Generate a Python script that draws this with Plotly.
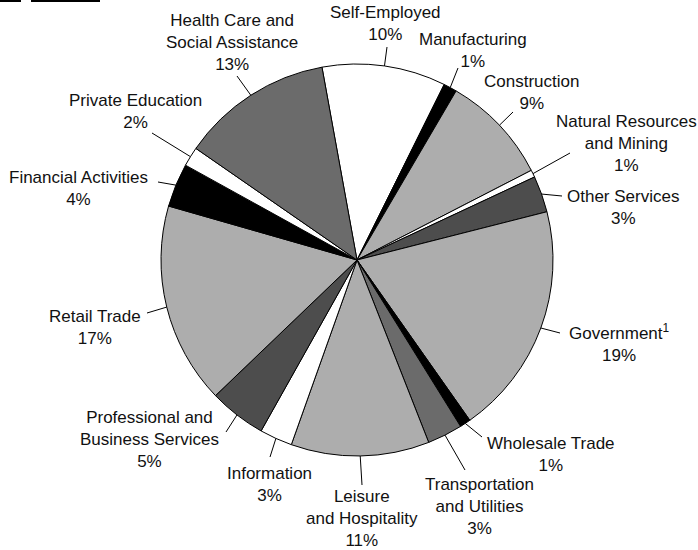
import math
import plotly.graph_objects as go

# Share of employment by sector (clockwise from Self-Employed)
sectors = ["Self-Employed", "Manufacturing", "Construction",
           "Natural Resources<br>and Mining", "Other Services",
           "Government<sup>1</sup>", "Wholesale Trade",
           "Transportation<br>and Utilities", "Leisure<br>and Hospitality",
           "Information", "Professional and<br>Business Services",
           "Retail Trade", "Financial Activities", "Private Education",
           "Health Care and<br>Social Assistance"]
shares = [10.2, 1.1, 9.0, 0.6, 3.0, 19.2, 0.9, 2.9, 11.4, 2.7, 4.7, 16.6, 3.6, 1.6, 12.5]
pct_labels = ["10%", "1%", "9%", "1%", "3%", "19%", "1%", "3%", "11%", "3%",
              "5%", "17%", "4%", "2%", "13%"]

# styling
fills = ["#ffffff", "#000000", "#adadad", "#ffffff", "#4d4d4d", "#adadad", "#000000",
         "#6b6b6b", "#adadad", "#ffffff", "#4d4d4d", "#adadad", "#000000", "#ffffff",
         "#6b6b6b"]
# where each label's text block sits (pixel centre in the 698x550 page)
label_pos = [(385, 23), (473, 50), (531, 93), (626, 143), (623, 207), (619, 343),
             (551, 454), (480, 506), (362, 518), (269, 484), (149, 439), (95, 327),
             (78, 188), (135, 112), (232, 42)]
# outer end of each leader line (pixels)
leader_end = [(387, 47), (458, 68), (513, 112), (570, 153), (562, 196), (560, 333),
              (482, 437), (465, 470), (362, 485), (270, 457), (226, 432), (147, 313),
              (158, 182), (152, 133), (237, 76)]

W, H = 698, 550
cx, cy, r = 357, 260, 196
start_deg = -10.3

fig = go.Figure(go.Pie(
    labels=[s.replace("<br>", " ").replace("<sup>1</sup>", "") for s in sectors],
    values=shares,
    sort=False,
    direction="clockwise",
    rotation=start_deg,
    textinfo="none",
    hoverinfo="label+percent",
    marker=dict(colors=fills, line=dict(color="#000000", width=1)),
    domain=dict(x=[(cx - r) / W, (cx + r) / W], y=[(H - cy - r) / H, (H - cy + r) / H]),
    showlegend=False,
))

total = sum(shares)
annotations = []
shapes = []
acc = 0.0
for name, val, pct, (tx, ty), (ex, ey) in zip(sectors, shares, pct_labels, label_pos, leader_end):
    mid = math.radians(start_deg + 360 * (acc + val / 2) / total)
    acc += val
    px = cx + r * math.sin(mid)
    py = cy - r * math.cos(mid)
    shapes.append(dict(type="line", xref="paper", yref="paper",
                       x0=px / W, y0=1 - py / H, x1=ex / W, y1=1 - ey / H,
                       line=dict(color="#000000", width=1)))
    annotations.append(dict(
        x=tx / W, y=1 - ty / H, xref="paper", yref="paper",
        text=f"{name}<br>{pct}", showarrow=False,
        font=dict(family="Liberation Sans, Arial, sans-serif", size=17, color="#111111"),
        align="center", xanchor="center", yanchor="middle",
    ))

# bits of a cropped header at the top-left edge
shapes += [
    dict(type="rect", xref="paper", yref="paper", x0=0, x1=21 / W, y0=1 - 2 / H, y1=1,
         fillcolor="black", line=dict(width=0)),
    dict(type="rect", xref="paper", yref="paper", x0=31 / W, x1=100 / W, y0=1 - 2 / H, y1=1,
         fillcolor="black", line=dict(width=0)),
]

fig.update_layout(
    width=W, height=H,
    margin=dict(l=0, r=0, t=0, b=0),
    paper_bgcolor="white",
    annotations=annotations,
    shapes=shapes,
)

fig.write_html("out.html", config={"displayModeBar": False},
               post_script="document.body.style.margin='0';")
